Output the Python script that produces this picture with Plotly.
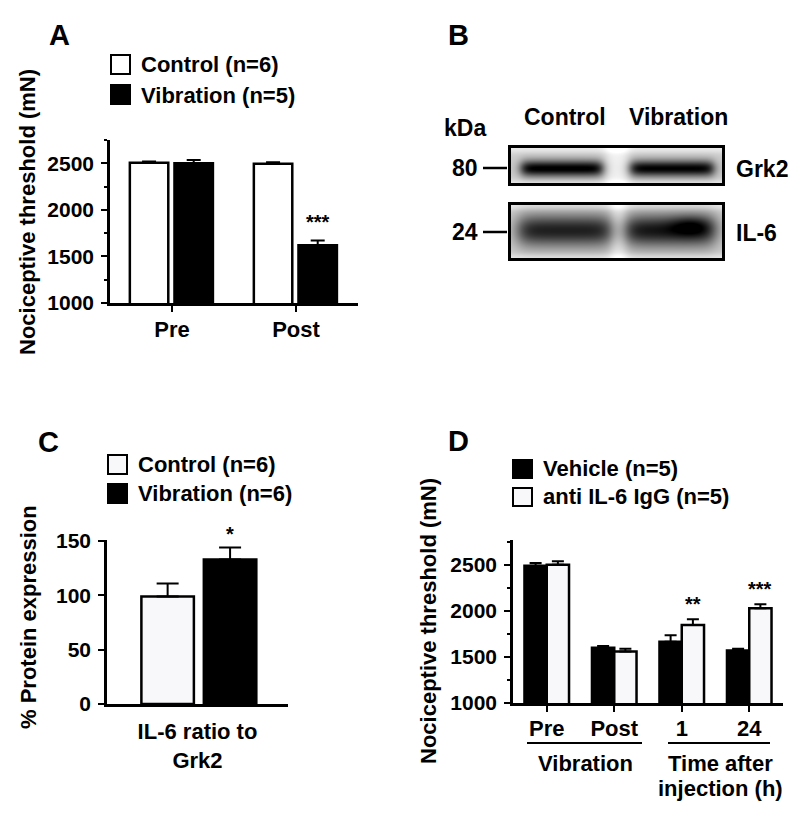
import numpy as np
import plotly.graph_objects as go

W, H = 800, 816
FONT = "Liberation Sans, Arial, sans-serif"

# ---------------- data ----------------
# Panel A
a_categories = ["Pre", "Post"]
a_control = [2505, 2495]
a_control_err = [15, 15]
a_vibration = [2500, 1620]
a_vibration_err = [35, 50]
a_signif = ["", "***"]

# Panel C
c_categories = ["IL-6 ratio to<br>Grk2"]
c_control = [99]
c_control_err = [12]
c_vibration = [133]
c_vibration_err = [11]
c_signif = ["*"]

# Panel D
d_categories = ["Pre", "Post", "1", "24"]
d_vehicle = [2490, 1600, 1665, 1570]
d_vehicle_err = [30, 20, 70, 20]
d_anti = [2500, 1560, 1848, 2030]
d_anti_err = [40, 30, 62, 42]
d_signif = ["", "", "**", "***"]

# Panel B (western blot)
blot_lanes = ["Control", "Vibration"]
blot_proteins = ["Grk2", "IL-6"]
blot_kda = ["80", "24"]
grk2_band = [0.82, 0.80]
il6_band = [0.68, 0.72]


def px(x):
    return x / W


def py(y):
    return 1 - y / H


def bold(size):
    return dict(family=FONT, size=size, color="black", weight="bold")


fig = go.Figure()

WHITE = "#ffffff"
OFFWHITE = "#f8f8fb"


def errb(arr, w):
    return dict(type="data", array=arr, arrayminus=[0] * len(arr), symmetric=False,
                color="black", thickness=2, width=w)


# Panel A bars
A_W, A_OFF = 0.31, (-0.34, 0.02)
fig.add_bar(x=a_categories, y=a_control, xaxis="x", yaxis="y", width=A_W, offset=A_OFF[0],
            marker=dict(color=WHITE, line=dict(color="black", width=2.5)),
            error_y=errb(a_control_err, 7), name="Control (n=6)", showlegend=False)
fig.add_bar(x=a_categories, y=a_vibration, xaxis="x", yaxis="y", width=A_W, offset=A_OFF[1],
            marker=dict(color="black", line=dict(color="black", width=2.5)),
            error_y=errb(a_vibration_err, 7), name="Vibration (n=5)", showlegend=False)

# Panel C bars
C_W, C_OFF = 0.29, (-0.31, 0.035)
fig.add_bar(x=c_categories, y=c_control, xaxis="x2", yaxis="y2", width=C_W, offset=C_OFF[0],
            marker=dict(color=OFFWHITE, line=dict(color="black", width=2.5)),
            error_y=errb(c_control_err, 11), name="Control (n=6)", showlegend=False)
fig.add_bar(x=c_categories, y=c_vibration, xaxis="x2", yaxis="y2", width=C_W, offset=C_OFF[1],
            marker=dict(color="black", line=dict(color="black", width=2.5)),
            error_y=errb(c_vibration_err, 11), name="Vibration (n=6)", showlegend=False)

# Panel D bars
D_W, D_OFF = 0.33, (-0.33, 0.0)
fig.add_bar(x=d_categories, y=d_vehicle, xaxis="x3", yaxis="y3", width=D_W, offset=D_OFF[0],
            marker=dict(color="black", line=dict(color="black", width=2.5)),
            error_y=errb(d_vehicle_err, 6), name="Vehicle (n=5)", showlegend=False)
fig.add_bar(x=d_categories, y=d_anti, xaxis="x3", yaxis="y3", width=D_W, offset=D_OFF[1],
            marker=dict(color=OFFWHITE, line=dict(color="black", width=2.5)),
            error_y=errb(d_anti_err, 6), name="anti IL-6 IgG (n=5)", showlegend=False)


# Panel B blot image
def sbox(t, a, b, s):
    return 1 / (1 + np.exp(-(t - a) / s)) / (1 + np.exp((t - b) / s))


lane_x = [(521, 602), (630, 713)]
bx = np.arange(511, 723, 1.0)

gy = np.arange(148, 184, 1.0)
X, Y = np.meshgrid(bx, gy)
bg = 0.80 + 0.15 * sbox(X, 606, 627, 3) + 0.12 * (1 - sbox(Y, 152, 180, 1.5))
z1 = bg.copy()
for (x0, x1), amp in zip(lane_x, grk2_band):
    z1 -= amp * sbox(X, x0, x1, 3) * np.exp(-0.5 * ((Y - 168) / 5.8) ** 2)
z1 = np.clip(z1, 0, 1)

gy2 = np.arange(205, 259, 1.0)
X2, Y2 = np.meshgrid(bx, gy2)
bg2 = 0.80 + 0.15 * sbox(X2, 611, 625, 3) + 0.12 * (1 - sbox(Y2, 209, 254, 1.5))
z2 = bg2.copy()
for (x0, x1), amp in zip([(518, 611), (625, 714)], il6_band):
    z2 -= amp * sbox(X2, x0, x1, 5) * np.exp(-0.5 * ((Y2 - 230) / 11.5) ** 2)
z2 -= 0.22 * np.exp(-0.5 * ((X2 - 690) / 14.0) ** 2 - 0.5 * ((Y2 - 225) / 7.0) ** 2)
z2 = np.clip(z2, 0, 1)

GRAY = [[0, "#000000"], [1, "#ffffff"]]
for zz, yy in ((z1, gy), (z2, gy2)):
    fig.add_trace(go.Heatmap(x=bx, y=yy, z=zz, colorscale=GRAY, zmin=0, zmax=1,
                             showscale=False, xaxis="x4", yaxis="y4", hoverinfo="skip"))

axis_common = dict(showline=True, linecolor="black", linewidth=2.5, ticks="outside",
                   ticklen=6, tickwidth=2, tickcolor="black", showgrid=False,
                   zeroline=False, fixedrange=True, automargin=False)

fig.update_layout(
    template="none",
    width=W, height=H, autosize=False,
    margin=dict(l=0, r=0, t=0, b=0, pad=0),
    paper_bgcolor="white", plot_bgcolor="white",
    showlegend=False,
    xaxis=dict(axis_common, domain=[px(110), px(358)], anchor="y", type="category",
               range=[-0.5, 1.5], tickfont=bold(22), ticklabelstandoff=-1),
    yaxis=dict(axis_common, domain=[py(303), py(140)], anchor="x", range=[1000, 2750],
               tickvals=[1000, 1500, 2000, 2500], tickfont=bold(21), ticklabelstandoff=3,
               minor=dict(ticks="outside", ticklen=3, tickwidth=1.5, tickcolor="black",
                          tick0=1000, dtick=250)),
    xaxis2=dict(axis_common, domain=[px(107), px(288)], anchor="y2", type="category",
                range=[-0.5, 0.5], ticks="", tickfont=bold(22), ticklabelstandoff=6),
    yaxis2=dict(axis_common, domain=[py(704), py(540)], anchor="x2", range=[0, 151],
                tickvals=[0, 50, 100, 150], tickfont=bold(21), ticklabelstandoff=3),
    xaxis3=dict(axis_common, domain=[px(513), px(783)], anchor="y3", type="category",
                range=[-0.5, 3.5], tickfont=bold(22), ticklabelstandoff=-2),
    yaxis3=dict(axis_common, domain=[py(703), py(540)], anchor="x3", range=[1000, 2770],
                tickvals=[1000, 1500, 2000, 2500], tickfont=bold(21), ticklabelstandoff=3,
                minor=dict(ticks="outside", ticklen=3, tickwidth=1.5, tickcolor="black",
                           tick0=1000, dtick=250)),
    xaxis4=dict(domain=[px(500), px(740)], range=[500, 740], visible=False, anchor="y4",
                fixedrange=True, automargin=False),
    yaxis4=dict(domain=[py(270), py(140)], range=[270, 140], visible=False, anchor="x4",
                fixedrange=True, automargin=False),
)

ann = []
shapes = []


def txt(text, x, y, size=22, xa="center", ya="middle", angle=0):
    ann.append(dict(text=text, x=px(x), y=py(y), xref="paper", yref="paper",
                    showarrow=False, font=bold(size), xanchor=xa, yanchor=ya,
                    textangle=angle))


def key(x0, y0, x1, y1, fill):
    shapes.append(dict(type="rect", xref="paper", yref="paper", x0=px(x0), x1=px(x1),
                       y0=py(y1), y1=py(y0), fillcolor=fill,
                       line=dict(color="black", width=2)))


# panel letters
txt("A", 59, 35, 29)
txt("B", 458, 35, 29)
txt("C", 48, 442, 29)
txt("D", 458, 441, 29)

# y titles
txt("Nociceptive threshold (mN)", 28, 212, 22, angle=-90)
txt("% Protein expression", 28, 617, 22, angle=-90)
txt("Nociceptive threshold (mN)", 428, 621, 22, angle=-90)

# legends
key(111, 55, 130, 74, WHITE)
key(111, 85, 130, 104, "black")
txt("Control (n=6)", 139, 65, 22, xa="left")
txt("Vibration (n=5)", 139, 95, 22, xa="left")

key(108, 455, 127, 474, OFFWHITE)
key(108, 484, 127, 503, "black")
txt("Control (n=6)", 136, 464, 22, xa="left")
txt("Vibration (n=6)", 136, 494, 22, xa="left")

key(513, 460, 532, 478, "black")
key(513, 488, 532, 506, OFFWHITE)
txt("Vehicle (n=5)", 541, 469, 22, xa="left")
txt("anti IL-6 IgG (n=5)", 541, 497, 22, xa="left")


# significance stars (anchored on data, category index positions)
def stars(labels, vals, errs, xref, yref, xshift, size, yshift):
    for i, (lab, v, e) in enumerate(zip(labels, vals, errs)):
        if lab:
            ann.append(dict(text=lab, x=i, y=v + e, xref=xref, yref=yref, showarrow=False,
                            font=bold(size), xanchor="center", yanchor="bottom",
                            xshift=xshift, yshift=yshift))


stars(a_signif, a_vibration, a_vibration_err, "x", "y",
      (A_OFF[1] + A_W / 2) * 124, 20, 6)
stars(c_signif, c_vibration, c_vibration_err, "x2", "y2",
      (C_OFF[1] + C_W / 2) * 181, 20, 1)
stars(d_signif, d_anti, d_anti_err, "x3", "y3",
      (D_OFF[1] + D_W / 2) * 67.5, 20, 2)

# panel D group labels
shapes.append(dict(type="line", xref="paper", yref="paper", x0=px(527), x1=px(642),
                   y0=py(743), y1=py(743), line=dict(color="black", width=2)))
shapes.append(dict(type="line", xref="paper", yref="paper", x0=px(668), x1=px(770),
                   y0=py(743), y1=py(743), line=dict(color="black", width=2)))
txt("Vibration", 585, 763, 22)
txt("Time after", 720, 763, 22)
txt("injection (h)", 720, 788, 22)

# panel B labels
txt("kDa", 465, 128, 23)
txt(blot_lanes[0], 565, 117, 23)
txt(blot_lanes[1], 678, 117, 23)
box_y = [(146.5, 184.5), (203.5, 259.5)]
mark_y = [168, 232]
for prot, kda, (y0, y1), my in zip(blot_proteins, blot_kda, box_y, mark_y):
    shapes.append(dict(type="rect", xref="x4", yref="y4", x0=509.5, x1=723.5, y0=y0, y1=y1,
                       line=dict(color="black", width=3)))
    shapes.append(dict(type="line", xref="paper", yref="paper", x0=px(483), x1=px(507),
                       y0=py(my), y1=py(my), line=dict(color="black", width=2.5)))
    txt(kda, 480, my, 23, xa="right")
    txt(prot, 734, my + 1, 23, xa="left")

fig.update_layout(annotations=ann, shapes=shapes)

fig.write_html("out.html", config={"displayModeBar": False},
               post_script="document.body.style.margin='0';"
                           "document.body.style.overflow='hidden';")
